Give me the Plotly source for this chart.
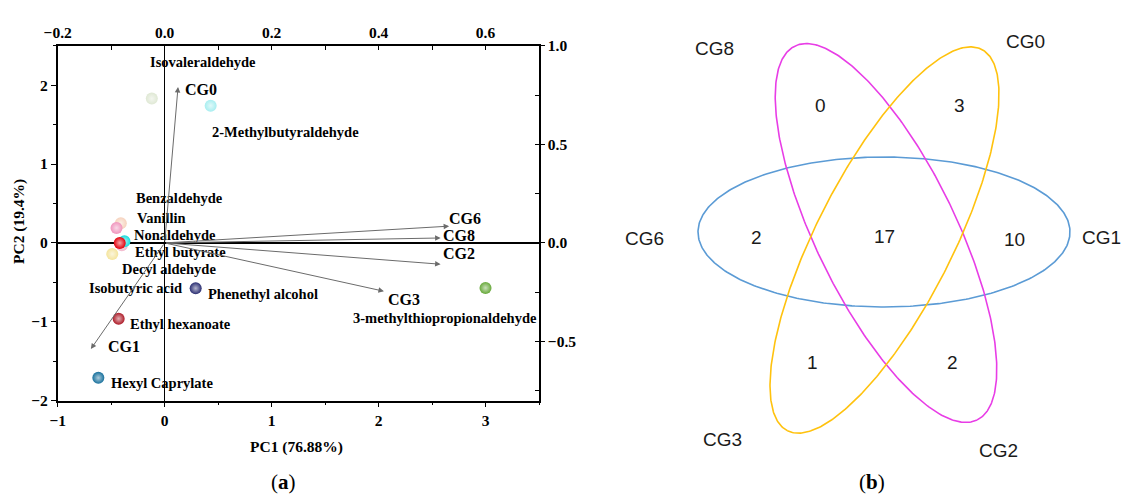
import numpy as np
import plotly.graph_objects as go

W, H = 1124, 497

# ---------------- Panel (a): PCA biplot ----------------
compounds = ["Isovaleraldehyde", "2-Methylbutyraldehyde", "Benzaldehyde", "Vanillin",
             "Isobutyric acid", "Nonaldehyde", "Ethyl butyrate", "Decyl aldehyde",
             "Phenethyl alcohol", "3-methylthiopropionaldehyde", "Ethyl hexanoate",
             "Hexyl Caprylate"]
pc1 = [-0.12, 0.43, -0.41, -0.45, -0.40, -0.376, -0.42, -0.49, 0.29, 3.0, -0.43, -0.62]
pc2 = [1.83, 1.74, 0.25, 0.19, -0.03, 0.02, 0.0, -0.14, -0.575, -0.57, -0.96, -1.71]
ball_colors = ["#dfe8d4", "#a8eef0", "#f6d2bd", "#f095bd", "#f2b8cc", "#17dede", "#e3000b",
               "#f4e49c", "#2b2e72", "#67a93a", "#ad1b28", "#17709c"]
label_x = [-0.16, 0.42, -0.29, -0.28, -0.725, -0.31, -0.30, -0.415, 0.39, 1.745, -0.34, -0.525]
label_y = [2.29, 1.41, 0.565, 0.31, -0.57, 0.10, -0.11, -0.33, -0.65, -0.955, -1.03, -1.78]

groups = ["CG0", "CG6", "CG8", "CG2", "CG3", "CG1"]
load1 = [0.025, 0.532, 0.516, 0.516, 0.41, -0.138]
load2 = [0.79, 0.085, 0.025, -0.108, -0.245, -0.538]
group_label_x = [0.034, 0.528, 0.516, 0.516, 0.414, -0.11]
group_label_y = [0.776, 0.126, 0.036, -0.056, -0.288, -0.524]

pc1_title = "PC1 (76.88%)"
pc2_title = "PC2 (19.4%)"

# ---------------- Panel (b): Venn ----------------
venn_labels = ["CG8", "CG0", "CG6", "CG1", "CG3", "CG2"]
venn_label_pos = [(715, 48), (1025, 41), (645, 238), (1101, 237), (723, 439), (999, 450)]
venn_counts = [0, 3, 2, 17, 10, 1, 2]
venn_count_pos = [(821, 105), (960, 105), (757, 237), (885, 236), (1015, 239), (813, 362), (953, 362)]
# ellipse geometry: (cx, cy, semi_a(vertical-ish), semi_b, tilt_deg, colour)
ellipses = [
    (884, 232, 75, 186, 0.0, "#5b9bd5"),
    (886, 233, 208, 70, 26.0, "#e83de6"),
    (884.5, 240, 214, 68, -27.0, "#ffc20e"),
]

SERIF = "Liberation Serif"
SANS = "Liberation Sans"

def tint(hexc, f=0.65):
    h = hexc.lstrip("#")
    r, g, b = int(h[0:2], 16), int(h[2:4], 16), int(h[4:6], 16)
    r, g, b = [int(c + (255 - c) * f) for c in (r, g, b)]
    return f"#{r:02x}{g:02x}{b:02x}"

fig = go.Figure()

# balls
for i in range(len(compounds)):
    fig.add_trace(go.Scatter(
        x=[pc1[i]], y=[pc2[i]], mode="markers", xaxis="x", yaxis="y",
        marker=dict(size=12, color=ball_colors[i],
                    gradient=dict(type="radial", color=tint(ball_colors[i])),
                    line=dict(width=0)),
        showlegend=False, hoverinfo="text", text=compounds[i]))

annotations = []
for i, name in enumerate(compounds):
    annotations.append(dict(x=label_x[i], y=label_y[i], xref="x", yref="y", text=name,
                            showarrow=False, xanchor="left", yanchor="middle",
                            font=dict(family=SERIF, size=14.5, color="black", weight="bold")))

for i, g in enumerate(groups):
    annotations.append(dict(x=load1[i], y=load2[i], xref="x2", yref="y2",
                            ax=0, ay=0, axref="x2", ayref="y2", text="",
                            showarrow=True, arrowhead=2, arrowsize=1.1, arrowwidth=1,
                            arrowcolor="#6b6b6b"))
    annotations.append(dict(x=group_label_x[i], y=group_label_y[i], xref="x2", yref="y2",
                            text=g, showarrow=False, xanchor="left", yanchor="middle",
                            font=dict(family=SERIF, size=16, color="black", weight="bold")))

# Venn ellipses (pixel-space axes, y downward)
t = np.linspace(0, 2 * np.pi, 400)
for (cx, cy, a, b, tilt, col) in ellipses:
    th = np.deg2rad(tilt)
    ux, uy = np.sin(th), np.cos(th)
    vx, vy = np.cos(th), -np.sin(th)
    xs = cx + a * np.cos(t) * ux + b * np.sin(t) * vx
    ys = cy + a * np.cos(t) * uy + b * np.sin(t) * vy
    fig.add_trace(go.Scatter(x=xs, y=ys, mode="lines", xaxis="x3", yaxis="y3",
                             line=dict(color=col, width=1.6), showlegend=False,
                             hoverinfo="skip"))

for lab, (px, py) in zip(venn_labels, venn_label_pos):
    annotations.append(dict(x=px, y=py, xref="x3", yref="y3", text=lab, showarrow=False,
                            xanchor="center", yanchor="middle",
                            font=dict(family=SANS, size=19, color="#1a1a1a")))
for c, (px, py) in zip(venn_counts, venn_count_pos):
    annotations.append(dict(x=px, y=py, xref="x3", yref="y3", text=str(c), showarrow=False,
                            xanchor="center", yanchor="middle",
                            font=dict(family=SANS, size=19, color="#1a1a1a")))

# captions and axis titles
def paper_text(px, py, text, size, weight="normal", angle=0):
    return dict(x=px / W, y=1 - py / H, xref="paper", yref="paper", text=text,
                showarrow=False, xanchor="center", yanchor="middle", textangle=angle,
                font=dict(family=SERIF, size=size, color="black", weight=weight))

annotations.append(paper_text(283, 482, "(<b>a</b>)", 21))
annotations.append(paper_text(872, 482, "(<b>b</b>)", 21))
annotations.append(paper_text(296, 447, pc1_title, 15.5, "bold"))
annotations.append(paper_text(19, 222, pc2_title, 15.5, "bold", -90))

xdom = [57.7 / W, 539 / W]
ydom = [1 - 400.7 / H, 1 - 45.7 / H]
tickfont = dict(family=SERIF, size=15.5, color="black", weight="bold")

fig.update_layout(
    width=W, height=H, margin=dict(l=0, r=0, t=0, b=0, autoexpand=False),
    paper_bgcolor="white", plot_bgcolor="white",
    xaxis=dict(domain=xdom, range=[-1, 3.5], tickvals=[-1, 0, 1, 2, 3], automargin=False,
               showline=True, linecolor="black", linewidth=1.5, ticks="outside",
               ticklen=5, tickwidth=1.2, tickcolor="black", showgrid=False,
               zeroline=True, zerolinecolor="black", zerolinewidth=1,
               minor=dict(dtick=0.5, ticks="outside", ticklen=3, tickcolor="black"),
               tickfont=tickfont, anchor="y"),
    yaxis=dict(domain=ydom, range=[-2, 2.5], tickvals=[-2, -1, 0, 1, 2], automargin=False,
               showline=True, linecolor="black", linewidth=1.5, ticks="outside",
               ticklen=5, tickwidth=1.2, tickcolor="black", showgrid=False,
               zeroline=True, zerolinecolor="black", zerolinewidth=2,
               minor=dict(dtick=0.5, ticks="outside", ticklen=3, tickcolor="black"),
               tickfont=tickfont, anchor="x"),
    xaxis2=dict(overlaying="x", side="top", range=[-0.2, 0.7], anchor="y", automargin=False,
                tickvals=[-0.2, 0, 0.2, 0.4, 0.6], tickformat=".1f",
                showline=True, linecolor="black", linewidth=1.5, ticks="inside",
                ticklen=5, tickwidth=1.2, tickcolor="black", showgrid=False,
                zeroline=False, minor=dict(dtick=0.1, ticks="inside", ticklen=5, tickcolor="black"),
                tickfont=tickfont),
    yaxis2=dict(overlaying="y", side="right", range=[-0.8, 1.0], anchor="x", automargin=False,
                tickvals=[-0.5, 0, 0.5, 1.0], tickformat=".1f",
                showline=True, linecolor="black", linewidth=1.5, ticks="outside",
                ticklen=4, tickwidth=1.2, tickcolor="black", showgrid=False,
                zeroline=False, minor=dict(dtick=0.25, ticks="inside", ticklen=4, tickcolor="black"),
                tickfont=tickfont),
    xaxis3=dict(domain=[600 / W, 1], range=[600, W], visible=False, anchor="y3", automargin=False),
    yaxis3=dict(domain=[0, 1], range=[H, 0], visible=False, anchor="x3", automargin=False),
    annotations=annotations,
)

# dummy trace so the secondary axes carry data
fig.add_trace(go.Scatter(x=[None], y=[None], xaxis="x2", yaxis="y2", showlegend=False))

fig.write_html("out.html", config={"displayModeBar": False},
               post_script="document.body.style.margin='0';document.body.style.overflow='hidden';")
